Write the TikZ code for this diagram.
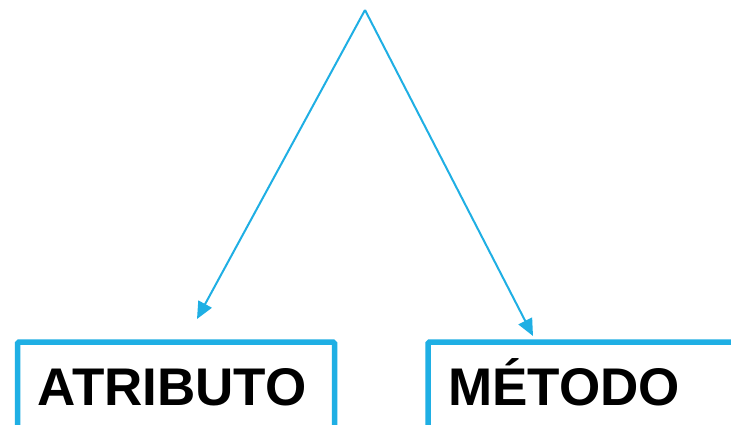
\documentclass[tikz,border=0pt]{standalone}
\usepackage{fontspec}
\setmainfont{Liberation Sans}
\usetikzlibrary{arrows.meta}
\definecolor{cyanline}{RGB}{31,175,228}
\begin{document}
\begin{tikzpicture}[x=1pt,y=-1pt,
  conn/.style={draw=cyanline, line width=2pt, -{Triangle[length=17pt,width=15pt]}},
  frame/.style={draw=cyanline, line width=5.5pt, rounded corners=1.5pt},
  label/.style={font=\fontsize{53}{60}\selectfont\bfseries, anchor=base west, inner sep=0pt}]
\useasboundingbox (0,0) rectangle (731,425);
\clip (0,0) rectangle (731,425);
\fill[white] (0,0) rectangle (731,425);
\coordinate (apex) at (365,10);
\coordinate (tipL) at (197,319);
\coordinate (tipR) at (533,336);
\draw[frame] (17.5,445) -- (17.5,342) -- (334.5,342) -- (334.5,445);
\draw[frame] (428,445) -- (428,342) -- (760,342);
\node[label] (atributo) at (37.5,405) {ATRIBUTO};
\node[label] (metodo) at (448,405) {MÉTODO};
\draw[conn] (apex) -- (tipL);
\draw[conn] (apex) -- (tipR);
\end{tikzpicture}
\end{document}
